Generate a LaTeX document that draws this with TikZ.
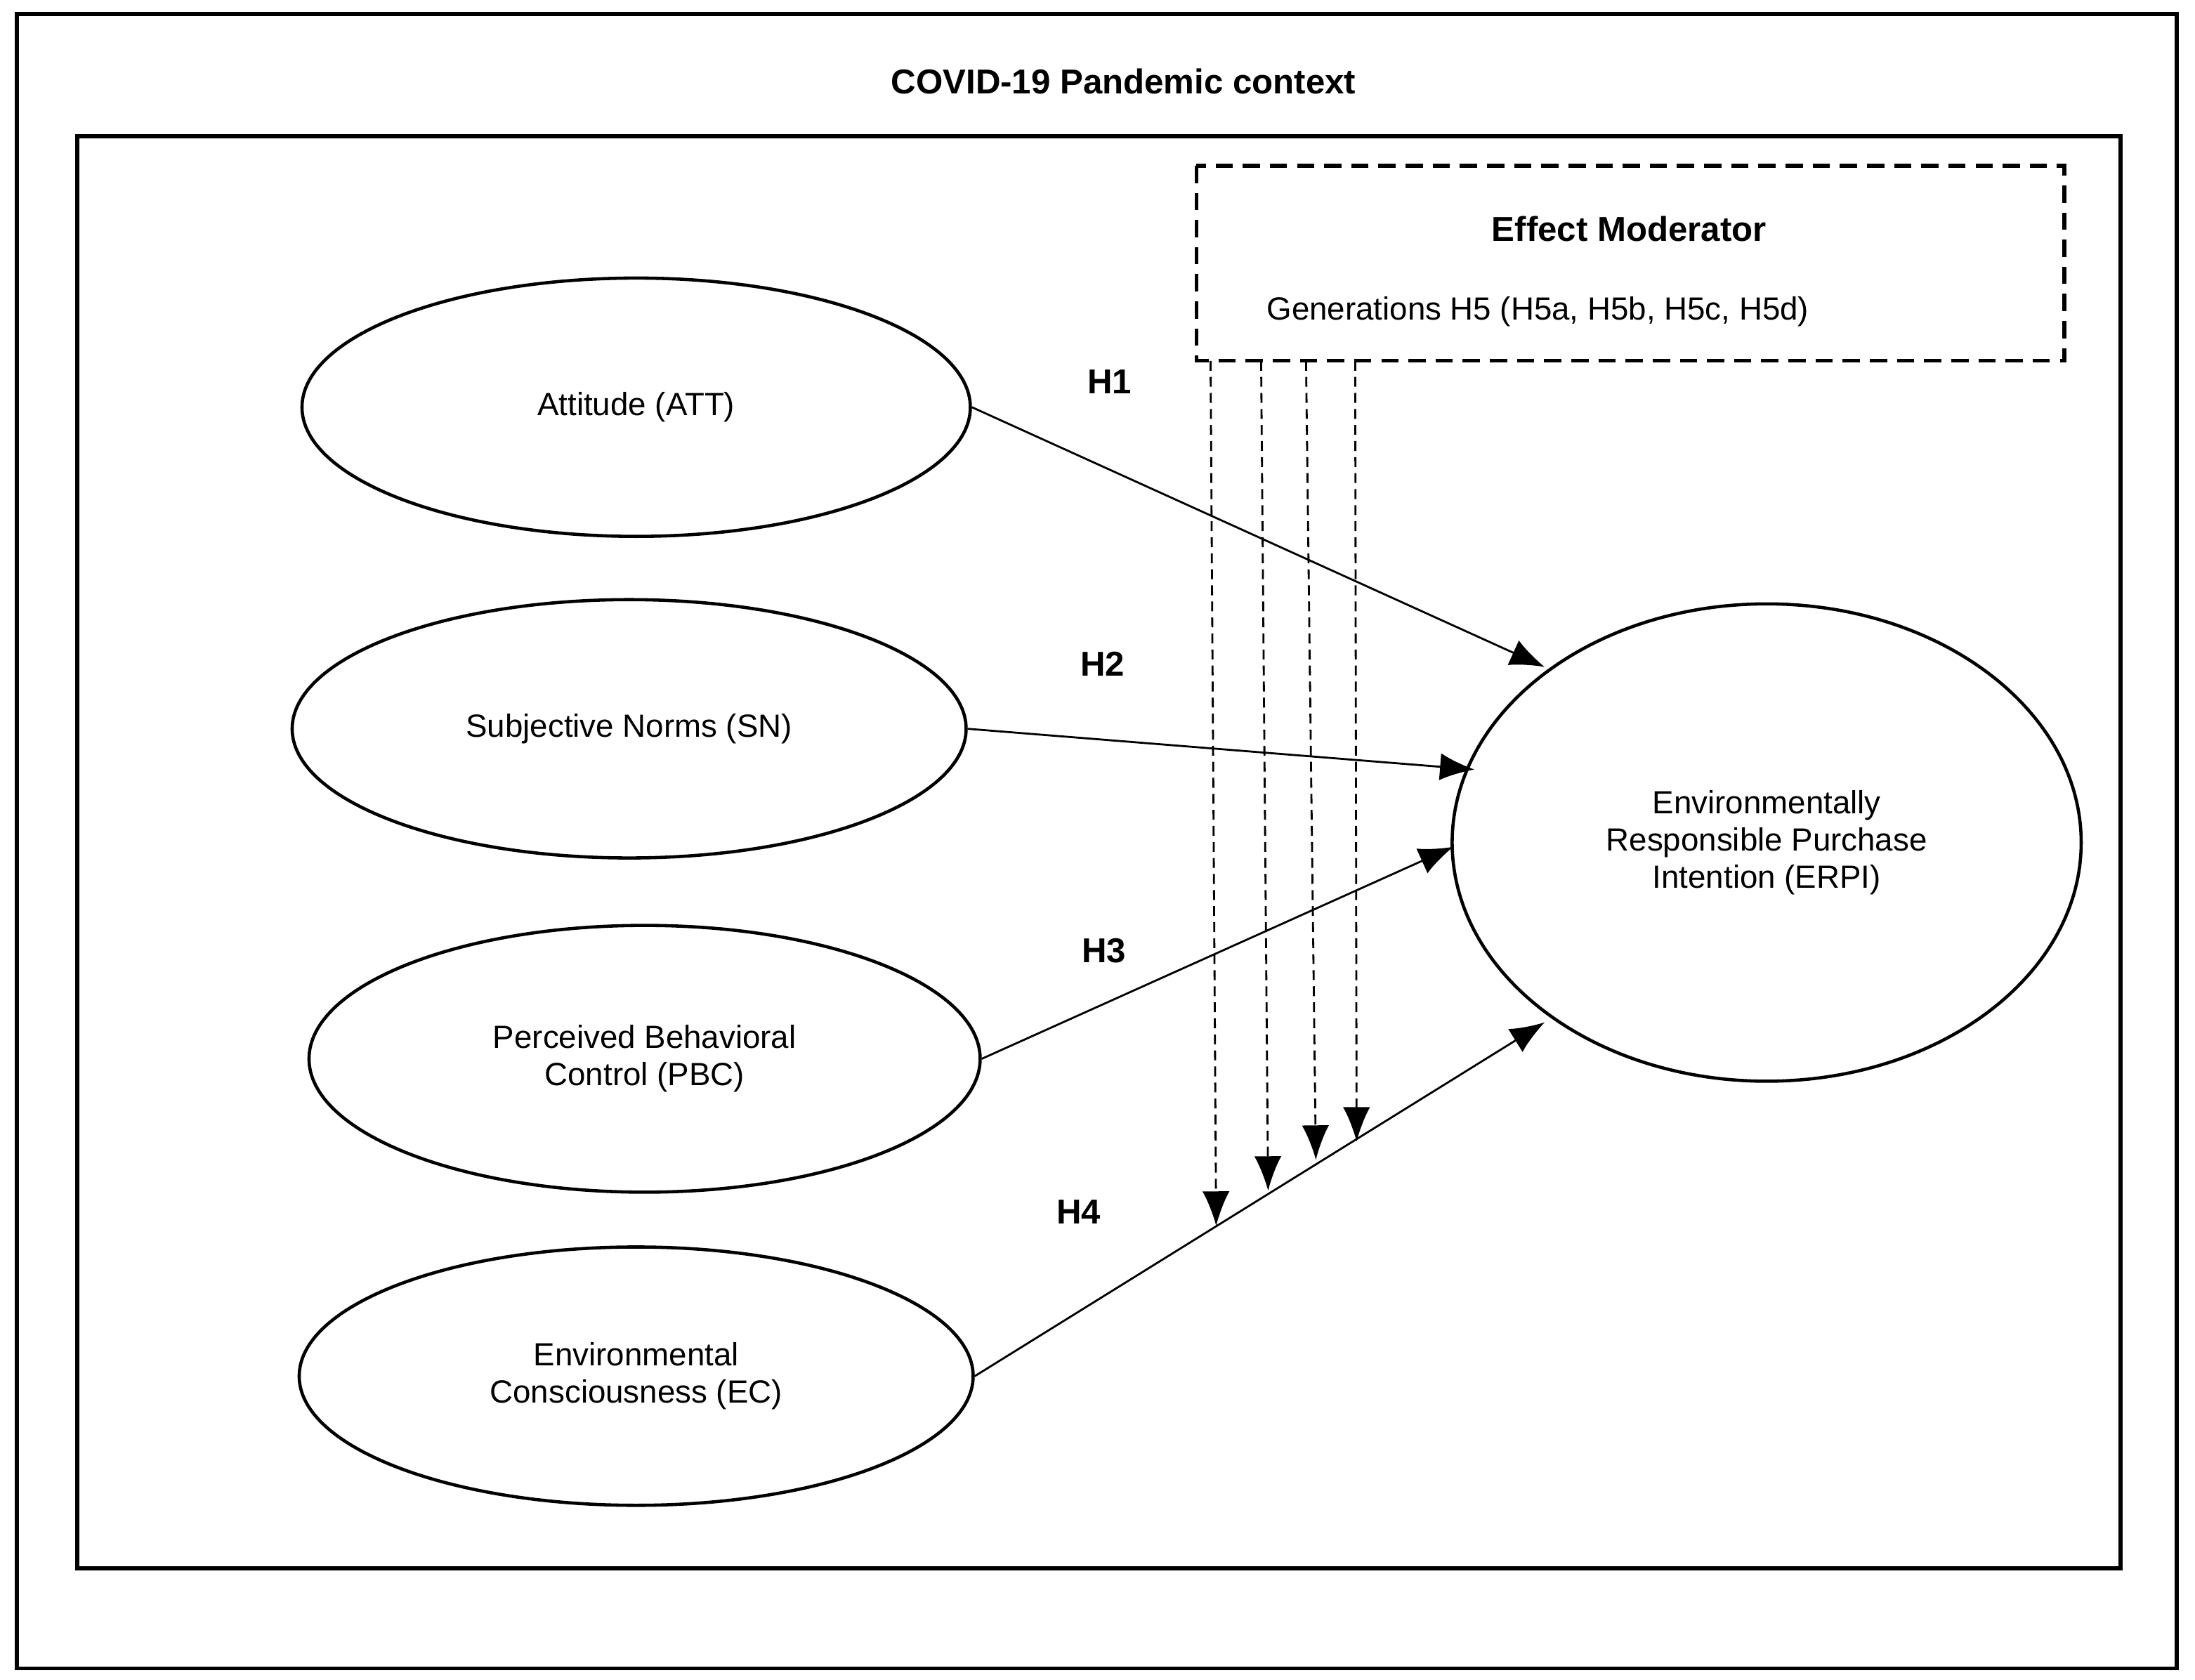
\documentclass[tikz,border=0pt]{standalone}
\usepackage{fontspec}
\setmainfont{Liberation Sans}
\usetikzlibrary{arrows.meta,shapes.geometric}
\begin{document}
\begin{tikzpicture}[x=0.02cm,y=-0.02cm,
  ell/.style={draw,line width=1.3pt,ellipse,inner sep=0pt},
  lab/.style={font=\fontsize{13}{15}\selectfont,align=center},
  hl/.style={font=\bfseries\fontsize{14}{16}\selectfont},
  arr/.style={line width=0.8pt,-{Latex[length=14pt,width=11pt]}},
  darr/.style={line width=0.8pt,dashed,dash pattern=on 4pt off 2.5pt,-{Latex[length=14pt,width=11pt]}}]
\useasboundingbox (0,0) rectangle (1563,1196);
\draw[line width=1.5pt] (12,10) rectangle (1550,1188);
\draw[line width=1.6pt] (55,97) rectangle (1510,1117);
\draw[line width=1.5pt,dash pattern=on 7pt off 4pt] (852,118) rectangle (1470,257);
\node[hl] (title) at (800,58) {COVID-19 Pandemic context};
\node[hl] (em) at (1160,163) {Effect Moderator};
\node[lab] (gen) at (1095,222) {Generations H5 (H5a, H5b, H5c, H5d)};
\node[ell,minimum width=9.52cm,minimum height=3.68cm,lab] (att) at (453,290) {Attitude (ATT)};
\node[ell,minimum width=9.6cm,minimum height=3.68cm,lab] (sn) at (448,519) {Subjective Norms (SN)};
\node[ell,minimum width=9.56cm,minimum height=3.8cm,lab] (pbc) at (459,754) {Perceived Behavioral\\Control (PBC)};
\node[ell,minimum width=9.6cm,minimum height=3.68cm,lab] (ec) at (453,980) {Environmental\\Consciousness (EC)};
\node[ell,minimum width=8.96cm,minimum height=6.8cm,lab] (erpi) at (1258,600) {Environmentally\\Responsible Purchase\\Intention (ERPI)};
\coordinate (a1) at (1100,475);
\coordinate (a2) at (1050,548);
\coordinate (a3) at (1035,603);
\coordinate (a4) at (1100,728);
\draw[arr] (att.east) -- (a1);
\draw[arr] (sn.east) -- (a2);
\draw[arr] (pbc.east) -- (a3);
\draw[arr] (ec.east) -- (a4);
\node[hl] (h1) at (790,272) {H1};
\node[hl] (h2) at (785,473) {H2};
\node[hl] (h3) at (786,677) {H3};
\node[hl] (h4) at (768,863) {H4};
\coordinate (s1) at (862,257); \coordinate (e1) at (866,873);
\coordinate (s2) at (898,257); \coordinate (e2) at (903,848);
\coordinate (s3) at (930,257); \coordinate (e3) at (937,826);
\coordinate (s4) at (965,257); \coordinate (e4) at (966,813);
\draw[darr] (s1) -- (e1);
\draw[darr] (s2) -- (e2);
\draw[darr] (s3) -- (e3);
\draw[darr] (s4) -- (e4);
\end{tikzpicture}
\end{document}
